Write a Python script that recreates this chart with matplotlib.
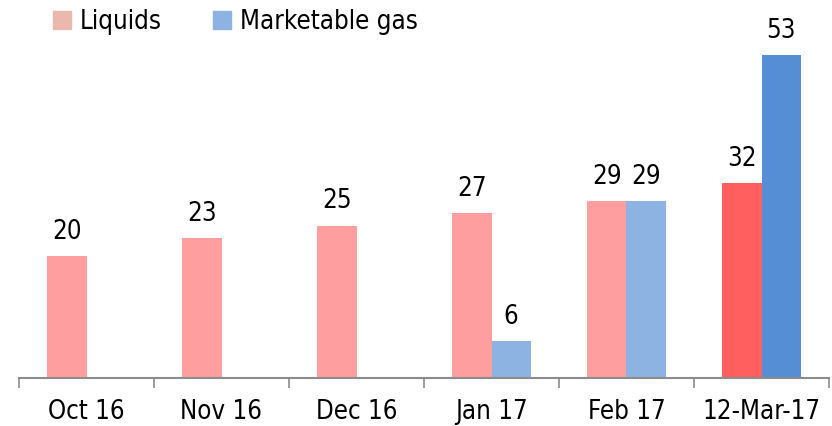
import matplotlib
matplotlib.use("Agg")
import matplotlib.pyplot as plt
from matplotlib.patches import Patch
import numpy as np

categories = ["Oct 16", "Nov 16", "Dec 16", "Jan 17", "Feb 17", "12-Mar-17"]
liquids = [20, 23, 25, 27, 29, 32]
gas = [None, None, None, 6, 29, 53]

liq_colors = ["#FF9E9E"] * 5 + ["#FF5F5F"]
gas_colors = ["#8DB3E2"] * 5 + ["#558ED5"]

plt.rcParams['font.family'] = ['DejaVu Sans']
plt.rcParams['font.stretch'] = 'condensed'
FS = 18.5

W, H = 832, 426
fig = plt.figure(figsize=(W / 100, H / 100), dpi=100)
ax = fig.add_axes([19 / W, (H - 378) / H, 810 / W, 378 / H])

x = np.arange(len(categories))
bw = 0.29
for i in range(len(categories)):
    ax.bar(x[i] - bw / 2, liquids[i], width=bw, color=liq_colors[i], edgecolor="none")
    ax.annotate(str(liquids[i]), (x[i] - bw / 2, liquids[i]), xytext=(0, 8),
                textcoords="offset points", ha="center", va="bottom", fontsize=FS)
    if gas[i] is not None:
        ax.bar(x[i] + bw / 2, gas[i], width=bw, color=gas_colors[i], edgecolor="none")
        ax.annotate(str(gas[i]), (x[i] + bw / 2, gas[i]), xytext=(0, 8),
                    textcoords="offset points", ha="center", va="bottom", fontsize=FS)

ax.set_xlim(-0.5, len(categories) - 0.5)
ax.set_ylim(0, 62)
ax.set_yticks([])
for s in ["top", "right", "left"]:
    ax.spines[s].set_visible(False)
ax.spines["bottom"].set_color("#8C8C8C")
ax.spines["bottom"].set_linewidth(1.5)

ax.set_xticks(x)
ax.set_xticklabels(categories, fontsize=FS)
ax.tick_params(axis="x", which="major", length=0, pad=15)
ax.set_xticks(np.arange(len(categories) + 1) - 0.5, minor=True)
ax.tick_params(axis="x", which="minor", length=7, width=1.2, color="#8C8C8C")

handles = [Patch(color="#EBB8AE", label="Liquids"), Patch(color="#8DB3E2", label="Marketable gas")]
fig.legend(handles=handles, loc="upper left", bbox_to_anchor=(40 / W, 1.01), ncol=2,
           frameon=False, fontsize=FS, handlelength=0.7, handleheight=0.7,
           handletextpad=0.35, columnspacing=2.0, borderaxespad=0.1)

fig.savefig("out.png", dpi=100)
